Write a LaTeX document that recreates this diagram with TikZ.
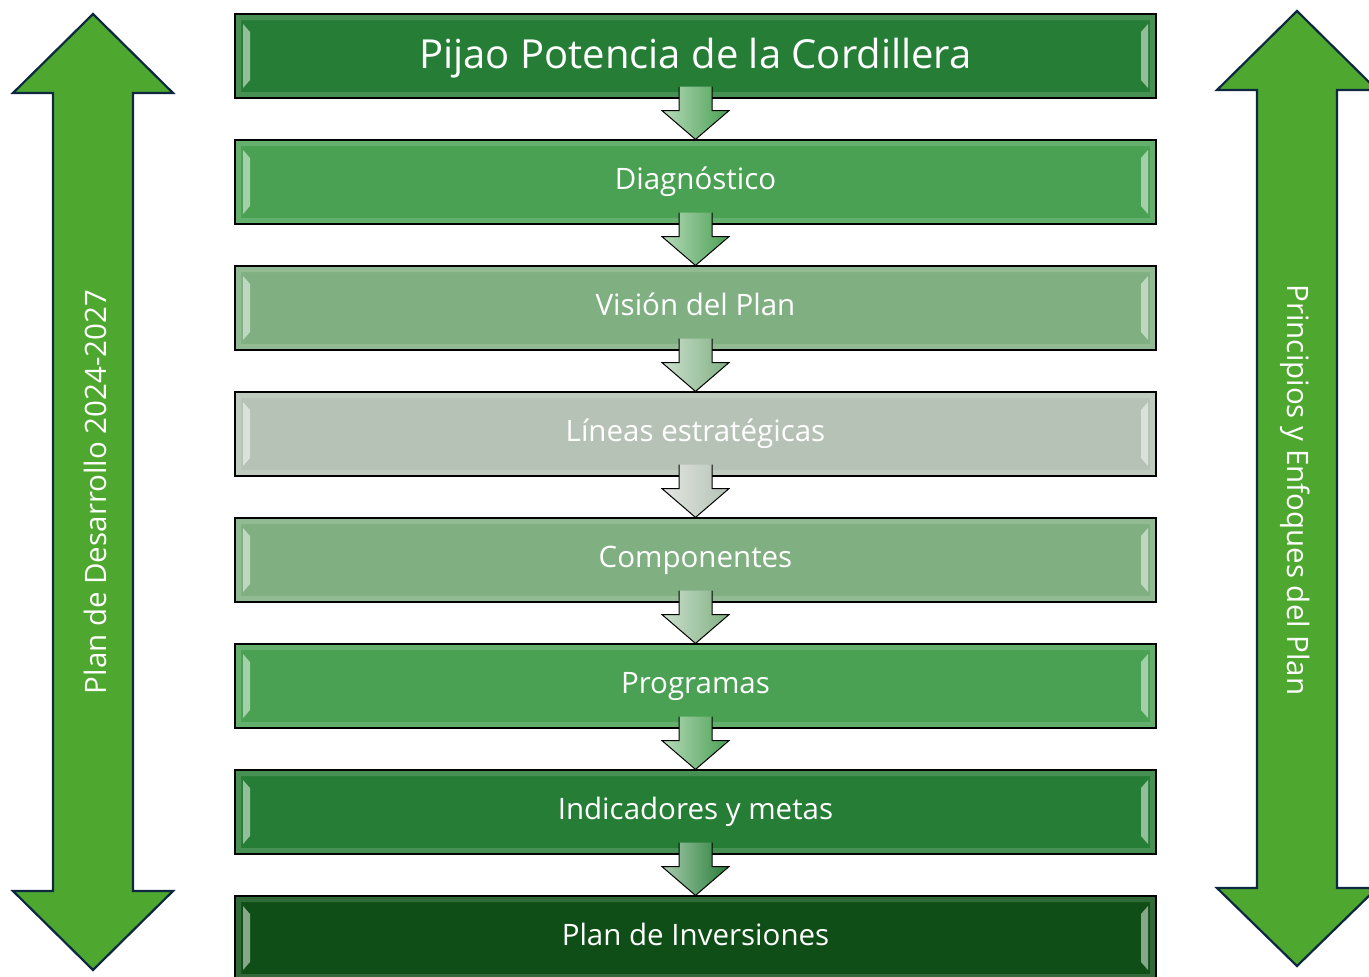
\documentclass[tikz,border=0pt]{standalone}
\usepackage{fontspec}
\setmainfont{Open Sans}
\usetikzlibrary{positioning}
\usetikzlibrary{calc}

\definecolor{tierA}{HTML}{267D36}
\definecolor{tierB}{HTML}{4AA153}
\definecolor{tierC}{HTML}{80B082}
\definecolor{tierD}{HTML}{B5C2B5}
\definecolor{tierE}{HTML}{0F4F17}
\definecolor{sidegreen}{HTML}{4EA72E}
\definecolor{sideline}{HTML}{0E2841}

\begin{document}
\begin{tikzpicture}[x=1pt, y=-1pt, node distance=40.8pt]
    \tikzstyle{stage}=[draw=black, line width=1.2pt, fill=#1, text=white,
    minimum width=921pt, minimum height=84pt, inner sep=0pt,
    font=\fontsize{29.5}{34}\selectfont, text height=21pt, text depth=7pt,
    path picture={
      \fill[white, fill opacity=0.15, even odd rule]
        (path picture bounding box.south west) rectangle (path picture bounding box.north east)
        ([shift={(6pt,-6pt)}]path picture bounding box.north west) rectangle ([shift={(-6pt,6pt)}]path picture bounding box.south east);
      \fill[white, fill opacity=0.5]
        ([shift={(8pt,-10pt)}]path picture bounding box.north west) -- ([shift={(15pt,-18pt)}]path picture bounding box.north west)
        -- ([shift={(15pt,18pt)}]path picture bounding box.south west) -- ([shift={(8pt,10pt)}]path picture bounding box.south west) -- cycle;
      \fill[white, fill opacity=0.5]
        ([shift={(-8pt,-10pt)}]path picture bounding box.north east) -- ([shift={(-15pt,-18pt)}]path picture bounding box.north east)
        -- ([shift={(-15pt,18pt)}]path picture bounding box.south east) -- ([shift={(-8pt,10pt)}]path picture bounding box.south east) -- cycle;
    }];
    \tikzstyle{link}=[draw=black, line width=1pt, left color=#1!40!white, right color=#1,
    to path={($(\tikztostart.south)+(-16.5,-12)$) -- ($(\tikztostart.south)+(-16.5,12)$)
      -- ($(\tikztostart.south)+(-33.5,12)$) -- (\tikztotarget.north)
      -- ($(\tikztostart.south)+(33.5,12)$) -- ($(\tikztostart.south)+(16.5,12)$)
      -- ($(\tikztostart.south)+(16.5,-12)$)}];
    \tikzstyle{sidearrow}=[draw=sideline, line width=2.2pt, fill=sidegreen];
    \tikzstyle{sidetext}=[text=white, font=\fontsize{29.5}{34}\selectfont];
    \useasboundingbox (0,0) rectangle (1369,977);

    % side arrows
    \draw[sidearrow] (93,14) -- (173,93) -- (133,93) -- (133,891) -- (173,891) -- (93,970)
      -- (13,891) -- (53,891) -- (53,93) -- (13,93) -- cycle;
    \draw[sidearrow] (1297,11) -- (1377,90) -- (1337,90) -- (1337,888) -- (1377,888) -- (1297,966)
      -- (1217,888) -- (1257,888) -- (1257,90) -- (1217,90) -- cycle;
    \node[sidetext, rotate=90] (plan) at (95,492) {Plan de Desarrollo 2024-2027};
    \node[sidetext, rotate=-90] (principios) at (1295,490) {Principios y Enfoques del Plan};

    % stages
    \node[stage=tierA, font=\fontsize{40}{46}\selectfont, text height=28.6pt, text depth=4.6pt] (pijao) at (695.5,56) {Pijao Potencia de la Cordillera};
    \node[stage=tierB, below=of pijao] (diag) {Diagnóstico};
    \node[stage=tierC, below=of diag] (vision) {Visión del Plan};
    \node[stage=tierD, below=of vision] (lineas) {Líneas estratégicas};
    \node[stage=tierC, below=of lineas] (comp) {Componentes};
    \node[stage=tierB, below=of comp] (prog) {Programas};
    \node[stage=tierA, below=of prog] (ind) {Indicadores y metas};
    \node[stage=tierE, below=of ind] (inv) {Plan de Inversiones};

    % arrows between stages
    \draw[link=tierB] (pijao) to (diag);
    \draw[link=tierB] (diag) to (vision);
    \draw[link=tierC] (vision) to (lineas);
    \draw[link=tierD] (lineas) to (comp);
    \draw[link=tierC] (comp) to (prog);
    \draw[link=tierB] (prog) to (ind);
    \draw[link=tierA] (ind) to (inv);
\end{tikzpicture}
\end{document}
